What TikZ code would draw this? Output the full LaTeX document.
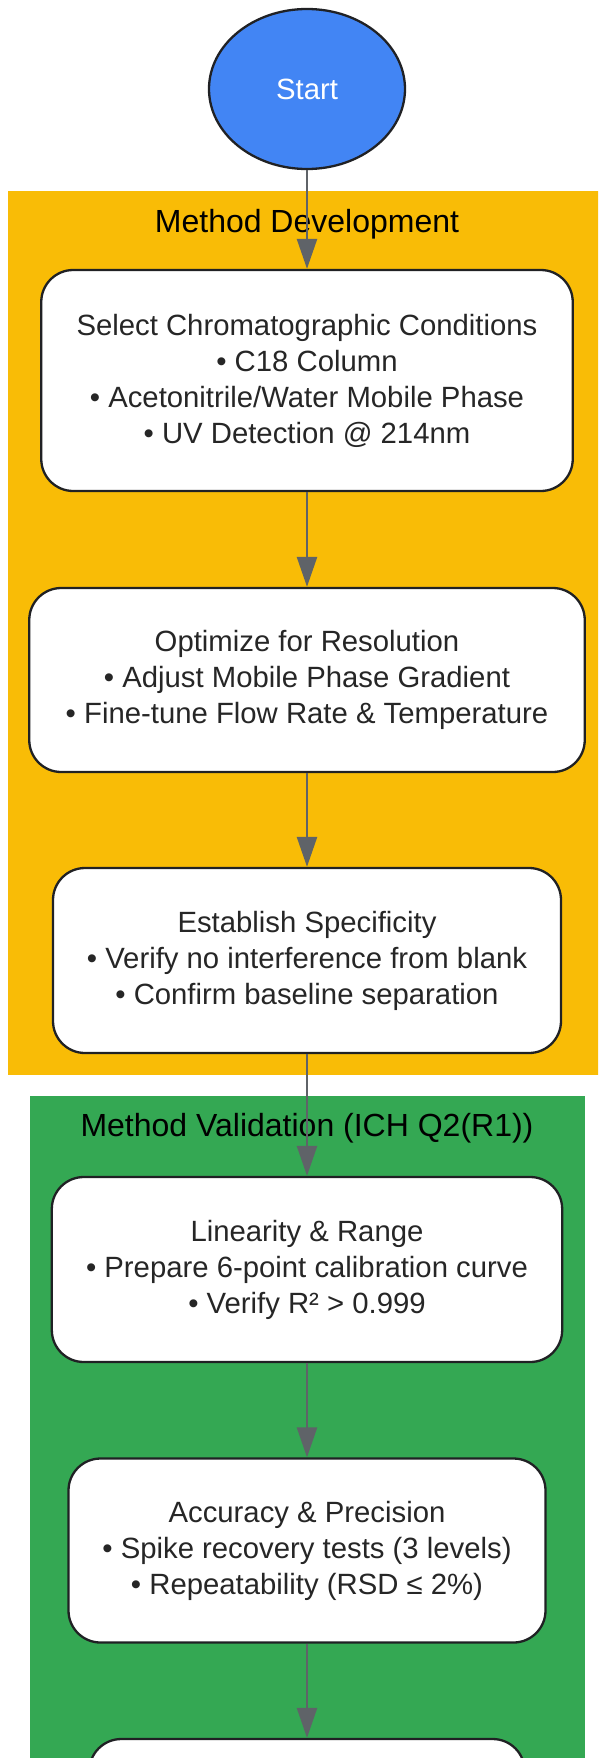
\documentclass[tikz,border=0pt]{standalone}
\usepackage{fontspec}
\setmainfont{Liberation Sans}
\usetikzlibrary{arrows.meta,shapes.geometric}
\definecolor{gblue}{HTML}{4285F4}
\definecolor{gyellow}{HTML}{F9BC06}
\definecolor{ggreen}{HTML}{34A853}
\definecolor{arrowgray}{HTML}{5F6368}
\definecolor{edgec}{HTML}{202124}
\definecolor{textc}{HTML}{262626}
\begin{document}
\begin{tikzpicture}[x=1pt,y=-1pt,
  stepbox/.style={draw=edgec, line width=2.3pt, fill=white, rounded corners=32pt, align=center, inner sep=0pt, text=textc, font=\fontsize{29.3}{36}\selectfont},
  flow/.style={draw=arrowgray, line width=2.5pt, -{Triangle[length=30pt,width=20pt]}},
  grouptitle/.style={font=\fontsize{32}{38}\selectfont, text=black, inner sep=0pt}]
\useasboundingbox (0,0) rectangle (598,1758);
\clip (0,0) rectangle (598,1758);
\fill[white] (0,0) rectangle (598,1758);
\fill[gyellow] (8,191) rectangle (606,1075);
\fill[ggreen] (30,1096) rectangle (584.5,1800);
\node[grouptitle] (t1) at (307,224) {Method Development};
\node[grouptitle] (t2) at (307,1128) {Method Validation (ICH Q2(R1))};
\node[ellipse, draw=edgec, line width=2.3pt, fill=gblue, text=white, minimum width=196pt, minimum height=160pt, inner sep=0pt, font=\fontsize{29.3}{36}\selectfont] (start) at (307,89) {Start};
\node[stepbox, minimum width=531.5pt, minimum height=221pt] (b1) at (307,380.5) {Select Chromatographic Conditions\\ • C18 Column\\ • Acetonitrile/Water Mobile Phase\\ • UV Detection @ 214nm};
\node[stepbox, minimum width=555.5pt, minimum height=184pt] (b2) at (307,680) {Optimize for Resolution\\ • Adjust Mobile Phase Gradient\\ • Fine-tune Flow Rate \& Temperature};
\node[stepbox, minimum width=508pt, minimum height=185pt] (b3) at (307,960.5) {Establish Specificity\\ • Verify no interference from blank\\ • Confirm baseline separation};
\node[stepbox, minimum width=510.4pt, minimum height=185pt] (b4) at (307,1269.5) {Linearity \& Range\\ • Prepare 6-point calibration curve\\ • Verify R² > 0.999};
\node[stepbox, minimum width=477pt, minimum height=184pt] (b5) at (307,1550.5) {Accuracy \& Precision\\ • Spike recovery tests (3 levels)\\ • Repeatability (RSD ≤ 2\%)};
\node[stepbox, minimum width=435.4pt, minimum height=184pt] (b6) at (307,1831) {};
\draw[flow] (start.south) -- (b1.north);
\draw[flow] (b1.south) -- (b2.north);
\draw[flow] (b2.south) -- (b3.north);
\draw[flow] (b3.south) -- (b4.north);
\draw[flow] (b4.south) -- (b5.north);
\draw[flow] (b5.south) -- (b6.north);
\end{tikzpicture}
\end{document}
